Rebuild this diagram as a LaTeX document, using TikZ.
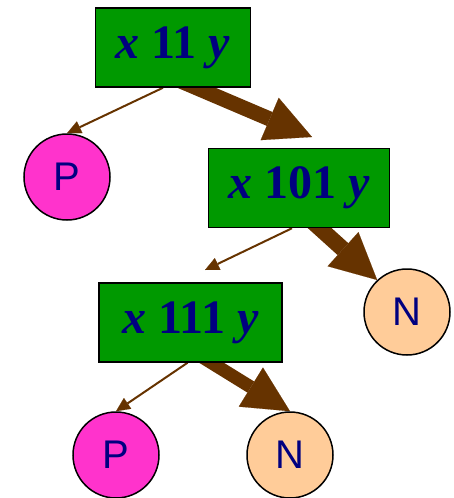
\documentclass[tikz,border=0pt]{standalone}
\usepackage{fontspec}
\usepackage{tikz}
\usetikzlibrary{arrows.meta, positioning}
\newfontfamily\boxfont{Liberation Serif}
\newfontfamily\leaffont{Liberation Sans}
\definecolor{BoxGreen}{RGB}{0, 153, 0}
\definecolor{TextNavy}{RGB}{0, 0, 128}
\definecolor{LeafPink}{RGB}{255, 51, 204}
\definecolor{LeafPeach}{RGB}{255, 204, 153}
\definecolor{ArrowBrown}{RGB}{102, 51, 0}
\pgfdeclarelayer{background}
\pgfsetlayers{background,main}
\newcommand{\condtext}[1]{\textit{x}~#1~\textit{y}}

\tikzset{
  condbox/.style={
    fill=BoxGreen,
    draw=black,
    line width=1.5pt,
    minimum height=79pt,
    inner xsep=20pt,
    text=TextNavy,
    font=\boxfont\bfseries\fontsize{48}{48}\selectfont
  },
  leaf/.style={
    circle,
    draw=black,
    line width=1.5pt,
    minimum size=86pt,
    inner sep=0pt,
    text=TextNavy,
    font=\leaffont\fontsize{40}{40}\selectfont
  },
  thinarrow/.style={
    draw=ArrowBrown,
    line width=2pt,
    -{Triangle[length=14pt, width=13pt, line width=0.1pt]}
  },
  thickarrow/.style={
    draw=ArrowBrown,
    line width=#1,
    -{Triangle[length=46pt, width=46pt, line width=0.1pt]}
  }
}

\begin{document}
\begin{tikzpicture}[x=1pt, y=-1pt]
  \useasboundingbox (0,0) rectangle (454,498);

  % decision boxes
  \node[condbox] (b1) at (173,47.5) {\condtext{11}};
  \node[condbox] (b2) at (299,188) {\condtext{101}};
  \node[condbox, minimum width=183pt] (b3) at (190.5,322.5) {\condtext{111}};

  % leaves
  \node[leaf, fill=LeafPink] (p1) at (67,177) {P};
  \node[leaf, fill=LeafPeach] (n1) at (407,312) {N};
  \node[leaf, fill=LeafPink] (p2) at (116,455) {P};
  \node[leaf, fill=LeafPeach] (n2) at (290,455) {N};

  \coordinate (t1) at (312,137);
  \coordinate (t2) at (205,270);

  % branches
  \begin{pgfonlayer}{background}
    \draw[thinarrow] ([xshift=-10pt]b1.south) -- (p1.north);
    \draw[thickarrow=15pt] ([xshift=7pt,yshift=7pt]b1.south) -- (t1);
    \draw[thinarrow] ([xshift=-7pt]b2.south) -- (t2);
    \draw[thickarrow=16pt] ([xshift=12pt,yshift=8pt]b2.south) -- (n1.133);
    \draw[thinarrow] ([xshift=-3pt]b3.south) -- (p2.north);
    \draw[thickarrow=13pt] ([xshift=8pt,yshift=8pt]b3.south) -- (n2.north);
  \end{pgfonlayer}
\end{tikzpicture}
\end{document}
